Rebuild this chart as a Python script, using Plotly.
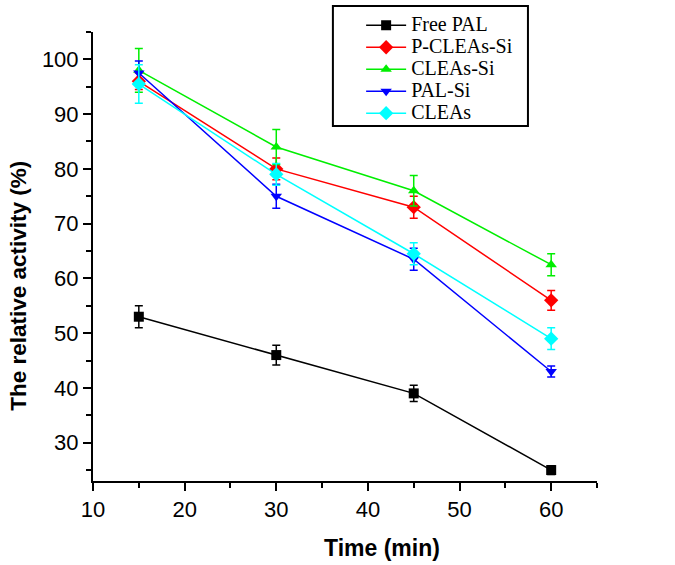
import plotly.graph_objects as go

time = [15, 30, 45, 60]
series_names = ["Free PAL", "P-CLEAs-Si", "CLEAs-Si", "PAL-Si", "CLEAs"]
free_pal = [53, 46, 39, 25]
free_pal_err = [2, 1.8, 1.5, 0.8]
p_cleas_si = [96, 80, 73, 56]
p_cleas_si_err = [1.5, 2, 2, 1.8]
cleas_si = [98, 84, 76, 62.5]
cleas_si_err = [4, 3.2, 2.8, 2]
pal_si = [97.5, 75, 63.5, 43]
pal_si_err = [2.2, 2.2, 2, 1]
cleas = [95.5, 79, 64.5, 49]
cleas_err = [3.5, 2, 2, 2]
x_title = "Time (min)"
y_title = "The relative activity (%)"

values = [free_pal, p_cleas_si, cleas_si, pal_si, cleas]
errors = [free_pal_err, p_cleas_si_err, cleas_si_err, pal_si_err, cleas_err]
colors = ["#000000", "#ff0000", "#00ee00", "#0000ff", "#00ffff"]
symbols = ["square", "diamond", "triangle-up", "triangle-down", "diamond"]

fig = go.Figure()
for name, y, e, c, s in zip(series_names, values, errors, colors, symbols):
    fig.add_trace(go.Scatter(
        x=time, y=y, name="<span style='font-size:20px'>" + name + "</span>",
        mode="lines+markers",
        line=dict(color=c, width=1.5),
        marker=dict(symbol=s, size=10 if s != "diamond" else 11, color=c),
        error_y=dict(type="data", array=e, visible=True, color=c, thickness=1.5, width=4),
    ))

# legend frame
fig.add_shape(type="rect", xref="paper", yref="paper",
              x0=0.476, x1=0.863, y0=0.746, y1=0.998,
              line=dict(color="black", width=2), fillcolor="white", layer="below")

# axis titles
fig.add_annotation(text="<b>" + y_title + "</b>", xref="paper", yref="paper",
                   x=-0.147, y=0.41, textangle=-90, showarrow=False,
                   xanchor="center", yanchor="middle",
                   font=dict(size=22.5, family="Arial, Liberation Sans", color="black"))
fig.add_annotation(text="<b>" + x_title + "</b>", xref="paper", yref="paper",
                   x=0.573, y=-0.141, showarrow=False,
                   xanchor="center", yanchor="middle",
                   font=dict(size=23, family="Arial, Liberation Sans", color="black"))

fig.update_layout(
    width=675, height=565,
    margin=dict(l=93, r=78, t=5, b=84, autoexpand=False),
    plot_bgcolor="rgba(0,0,0,0)", paper_bgcolor="white",
    font=dict(family="Arial, Liberation Sans", color="black"),
    legend=dict(
        x=0.532, y=0.991, xanchor="left", yanchor="top",
        xref="paper", yref="paper",
        font=dict(family="Liberation Serif, Times New Roman", size=14.6, color="black"),
        borderwidth=0, bgcolor="rgba(0,0,0,0)",
        tracegroupgap=0, itemwidth=40,
    ),
    xaxis=dict(
        range=[10, 65], tickvals=[10, 20, 30, 40, 50, 60], domain=[0, 1],
        automargin=False,
        showline=True, linecolor="black", linewidth=2,
        ticks="outside", ticklen=8, tickwidth=2, tickcolor="black",
        minor=dict(tickvals=[15, 25, 35, 45, 55, 65], ticks="outside", ticklen=5, tickwidth=2, tickcolor="black"),
        showgrid=False, zeroline=False,
        tickfont=dict(size=22, family="Arial, Liberation Sans"),
    ),
    yaxis=dict(
        range=[23, 105], tickvals=[30, 40, 50, 60, 70, 80, 90, 100], domain=[0, 0.9433],
        automargin=False,
        showline=True, linecolor="black", linewidth=2,
        ticks="outside", ticklen=8, tickwidth=2, tickcolor="black",
        minor=dict(tickvals=[25, 35, 45, 55, 65, 75, 85, 95, 105], ticks="outside", ticklen=5, tickwidth=2, tickcolor="black"),
        showgrid=False, zeroline=False,
        tickfont=dict(size=22, family="Arial, Liberation Sans"),
    ),
)

fig.write_html("out.html", config={"displayModeBar": False},
               post_script="document.body.style.margin='0px';")
